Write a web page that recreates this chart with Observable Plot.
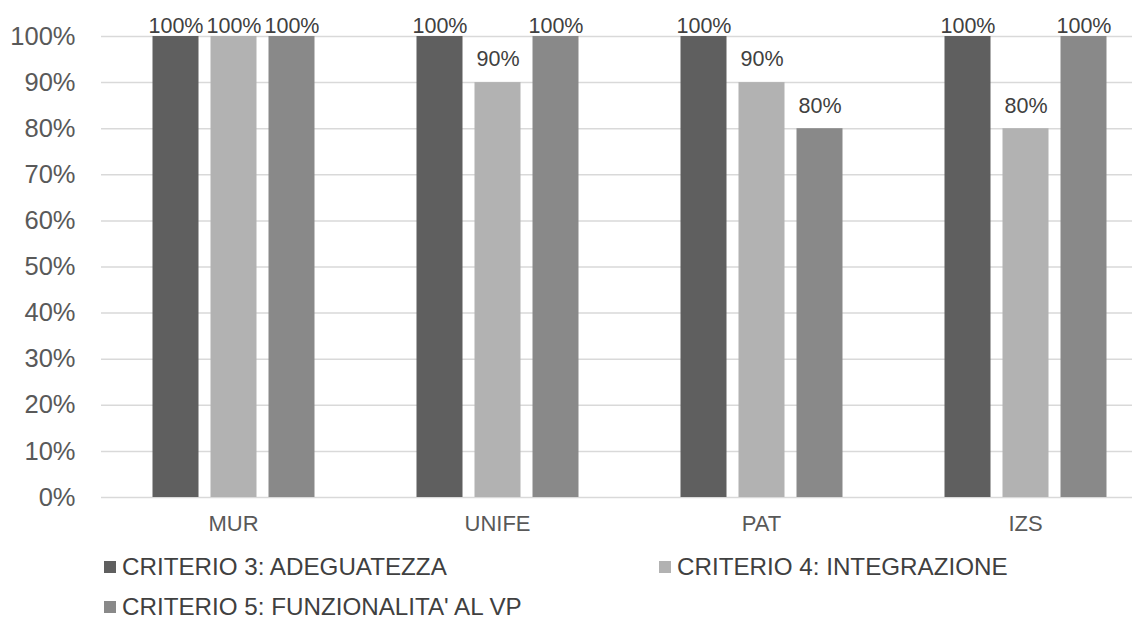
<!DOCTYPE html>
<html><head><meta charset="utf-8">
<script src="https://cdn.jsdelivr.net/npm/d3@7"></script>
<script src="https://cdn.jsdelivr.net/npm/@observablehq/plot@0.6"></script>
<style>
body{margin:0;background:#fff;font-family:"Liberation Sans",Arial,sans-serif;}
#wrap{position:relative;width:1132px;height:622px;overflow:hidden;}
.leg{position:absolute;display:flex;align-items:center;font-size:24.2px;color:#404040;line-height:1;white-space:nowrap;}
.sw{width:12px;height:12px;margin-right:6px;display:inline-block;}
</style></head>
<body><div id="wrap"></div>
<script>
const groups = ["MUR", "UNIFE", "PAT", "IZS"];
const criteria = ["CRITERIO 3: ADEGUATEZZA", "CRITERIO 4: INTEGRAZIONE", "CRITERIO 5: FUNZIONALITA' AL VP"];
const crit3 = [1.0, 1.0, 1.0, 1.0];
const crit4 = [1.0, 0.9, 0.9, 0.8];
const crit5 = [1.0, 1.0, 0.8, 1.0];
const yTicks = [0, 0.1, 0.2, 0.3, 0.4, 0.5, 0.6, 0.7, 0.8, 0.9, 1.0];
const colors = ["#5f5f5f", "#b2b2b2", "#898989"];

const series = [crit3, crit4, crit5];
const data = [];
groups.forEach((g, i) => series.forEach((s, j) => data.push({group: g, criterion: criteria[j], value: s[i]})));
const pct = d3.format(".0%");

const chart = Plot.plot({
  width: 1132, height: 545,
  marginTop: 36, marginBottom: 48, marginLeft: 101.5, marginRight: 0,
  style: {fontFamily: "'Liberation Sans', Arial, sans-serif", color: "#595959", background: "transparent"},
  fx: {domain: groups, range: [100.5, 1156.5], padding: 0, label: null},
  x: {domain: criteria, paddingInner: 0.2137, paddingOuter: 0.863, axis: null},
  y: {domain: [0, 1], label: null},
  color: {domain: criteria, range: colors},
  marks: [
    Plot.ruleY(yTicks, {stroke: "#d9d9d9", strokeWidth: 1.5}),
    Plot.barY(data, {fx: "group", x: "criterion", y: "value", fill: "criterion"}),
    Plot.text(data.filter(d => d.value < 1), {fx: "group", x: "criterion", y: "value", text: d => pct(d.value), dy: -23, fontSize: 21.5, fill: "#404040"}),
    Plot.text(data.filter(d => d.value >= 1), {fx: "group", x: "criterion", y: "value", text: d => pct(d.value), dy: -10, fontSize: 21.5, fill: "#404040"}),
    Plot.axisY(yTicks, {tickSize: 0, tickPadding: 26, tickFormat: pct, fontSize: 25.5, label: null, fill: "#595959"}),
    Plot.axisFx({anchor: "bottom", tickSize: 0, tickPadding: 18, fontSize: 22, label: null, fill: "#595959"})
  ]
});
const wrap = document.getElementById("wrap");
wrap.appendChild(chart);
const pos = [[104, 567], [659, 567], [104, 607]];
criteria.forEach((c, i) => {
  const el = document.createElement("div");
  el.className = "leg";
  el.style.left = pos[i][0] + "px";
  el.style.top = (pos[i][1] - 12) + "px";
  el.style.height = "24px";
  el.innerHTML = `<span class="sw" style="background:${colors[i]}"></span><span>${c}</span>`;
  wrap.appendChild(el);
});
</script></body></html>
